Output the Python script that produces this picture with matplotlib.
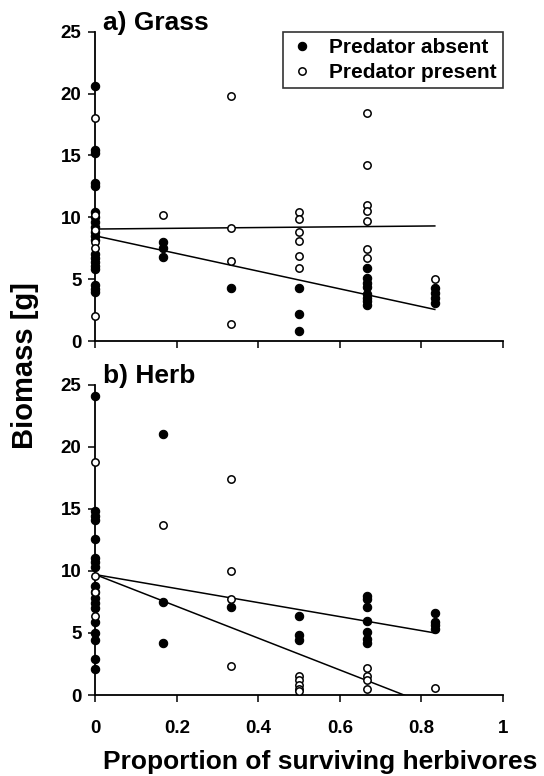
import numpy as np
import matplotlib
matplotlib.use("Agg")
import matplotlib.pyplot as plt

plt.rcParams['font.family'] = ['Liberation Sans', 'DejaVu Sans']
plt.rcParams['font.weight'] = 'bold'

# ---------------- data ----------------
levels = [0.0, 1/6, 1/3, 0.5, 2/3, 5/6]

# a) Grass
grass_absent = {
    0.0: [20.6, 15.4, 15.2, 12.8, 12.5, 10.4, 10.0, 9.6, 9.2, 8.8, 8.5, 8.2,
          7.0, 6.7, 6.4, 6.1, 5.8, 4.5, 4.2, 4.0],
    1/6: [8.0, 7.5, 6.8],
    1/3: [4.3],
    0.5: [4.3, 2.2, 0.8],
    2/3: [5.9, 5.1, 4.7, 4.4, 3.8, 3.5, 3.2, 2.9],
    5/6: [4.3, 3.9, 3.5, 3.1],
}
grass_present = {
    0.0: [18.0, 10.2, 9.0, 8.0, 7.5, 2.0],
    1/6: [10.2],
    1/3: [19.8, 9.1, 6.5, 1.4],
    0.5: [10.4, 9.9, 8.8, 8.1, 6.9, 5.9],
    2/3: [18.4, 14.2, 11.0, 10.5, 9.7, 7.4, 6.7],
    5/6: [5.0],
}
grass_fit_x = [0.0, 5/6]
grass_fit_absent = [8.5, 2.55]
grass_fit_present = [9.05, 9.3]

# b) Herb
herb_absent = {
    0.0: [24.1, 14.8, 14.4, 14.1, 12.6, 11.0, 10.7, 10.3, 8.8, 8.3, 7.8, 7.4,
          7.0, 5.9, 5.0, 4.4, 2.9, 2.1],
    1/6: [21.0, 7.5, 4.2],
    1/3: [7.1],
    0.5: [6.4, 4.8, 4.4],
    2/3: [8.0, 7.7, 7.1, 6.0, 5.1, 4.5, 4.2],
    5/6: [6.6, 5.9, 5.6, 5.3],
}
herb_present = {
    0.0: [18.8, 9.6, 8.3, 6.4],
    1/6: [13.7],
    1/3: [17.4, 10.0, 7.7, 2.3],
    0.5: [1.5, 1.2, 0.8, 0.5, 0.3],
    2/3: [2.2, 1.5, 1.2, 0.5],
    5/6: [0.6],
}
herb_fit_x = [0.0, 5/6]
herb_fit_absent = [9.7, 5.0]
herb_fit_present = [9.7, -0.97]

xticks = [0, 0.2, 0.4, 0.6, 0.8, 1]
xticklabels = ['0', '0.2', '0.4', '0.6', '0.8', '1']
yticks = [0, 5, 10, 15, 20, 25]
labels = ['Predator absent', 'Predator present']

# ---------------- figure ----------------
W, H = 544, 776
fig = plt.figure(figsize=(W / 100, H / 100), dpi=100)

left = 95.4 / W
width = (502.7 - 95.4) / W
ax1 = fig.add_axes([left, 1 - 341 / H, width, (341 - 31.7) / H])
ax2 = fig.add_axes([left, 1 - 695 / H, width, (695 - 384.7) / H])


def flat(d):
    xs, ys = [], []
    for k, v in d.items():
        xs += [k] * len(v)
        ys += v
    return xs, ys


def draw(ax, absent, present, fx, fa, fp):
    xa, ya = flat(absent)
    xp, yp = flat(present)
    ax.plot(fx, fa, color='black', lw=1.1, zorder=2)
    ax.plot(fx, fp, color='black', lw=1.1, zorder=2)
    ax.plot(xa, ya, 'o', ms=6.0, mfc='black', mec='black', mew=0.8,
            ls='none', clip_on=False, zorder=3, label=labels[0])
    ax.plot(xp, yp, 'o', ms=5.3, mfc='white', mec='black', mew=1.1,
            ls='none', clip_on=False, zorder=3, label=labels[1])
    ax.set_xlim(0, 1)
    ax.set_ylim(0, 25)
    ax.set_yticks(yticks)
    ax.set_xticks(xticks)
    for s in ['top', 'right']:
        ax.spines[s].set_visible(False)
    for s in ['left', 'bottom']:
        ax.spines[s].set_linewidth(1.3)
    ax.tick_params(axis='both', direction='out', length=5, width=1.1,
                   labelsize=13.5)
    ax.tick_params(axis='y', pad=5)
    ax.tick_params(axis='x', pad=13)
    for t in ax.get_yticklabels() + ax.get_xticklabels():
        t.set_fontweight('bold')


draw(ax1, grass_absent, grass_present, grass_fit_x, grass_fit_absent, grass_fit_present)
draw(ax2, herb_absent, herb_present, herb_fit_x, herb_fit_absent, herb_fit_present)

ax1.set_xticklabels([])
ax2.set_xticklabels(xticklabels, fontweight='bold')

fig.text(103 / W, 1 - 30 / H, 'a) Grass', fontsize=19, fontweight='bold',
         ha='left', va='baseline')
fig.text(103 / W, 1 - 383 / H, 'b) Herb', fontsize=19, fontweight='bold',
         ha='left', va='baseline')

leg = ax1.legend(loc='upper right', bbox_to_anchor=(1.0, 1.0),
                 borderaxespad=0, frameon=True, fancybox=False,
                 prop={'size': 15, 'weight': 'bold'}, handlelength=1.2,
                 handletextpad=0.7, labelspacing=0.3, borderpad=0.3,
                 numpoints=1)
leg.get_frame().set_edgecolor('black')
leg.get_frame().set_linewidth(1.2)

fig.text(25 / W, 1 - 366 / H, 'Biomass [g]', fontsize=21, fontweight='bold',
         rotation=90, ha='center', va='center')
fig.text(320 / W, 1 - 769 / H, 'Proportion of surviving herbivores',
         fontsize=19, fontweight='bold', ha='center', va='baseline')

fig.savefig('out.png', dpi=100)
